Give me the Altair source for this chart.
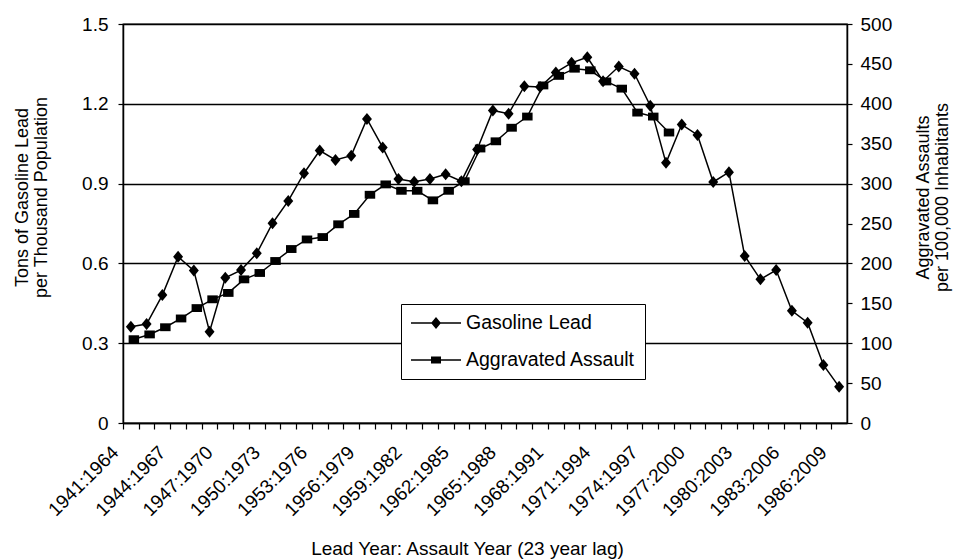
import altair as alt
import pandas as pd

categories = [
    "1941:1964", "1942:1965", "1943:1966", "1944:1967", "1945:1968", "1946:1969",
    "1947:1970", "1948:1971", "1949:1972", "1950:1973", "1951:1974", "1952:1975",
    "1953:1976", "1954:1977", "1955:1978", "1956:1979", "1957:1980", "1958:1981",
    "1959:1982", "1960:1983", "1961:1984", "1962:1985", "1963:1986", "1964:1987",
    "1965:1988", "1966:1989", "1967:1990", "1968:1991", "1969:1992", "1970:1993",
    "1971:1994", "1972:1995", "1973:1996", "1974:1997", "1975:1998", "1976:1999",
    "1977:2000", "1978:2001", "1979:2002", "1980:2003", "1981:2004", "1982:2005",
    "1983:2006", "1984:2007", "1985:2008", "1986:2009",
]

lead = [
    0.362, 0.372, 0.481, 0.625, 0.573, 0.343, 0.546, 0.575, 0.638, 0.751,
    0.835, 0.939, 1.024, 0.989, 1.005, 1.143, 1.036, 0.917, 0.907, 0.917,
    0.935, 0.909, 1.028, 1.175, 1.163, 1.266, 1.263, 1.318, 1.354, 1.375,
    1.285, 1.340, 1.313, 1.193, 0.978, 1.122, 1.083, 0.906, 0.943, 0.628,
    0.540, 0.575, 0.422, 0.377, 0.218, 0.136,
]

assault = [
    105, 111, 120, 131, 144, 155, 163, 180, 188, 203,
    218, 230, 233, 249, 262, 286, 299, 291, 291, 279,
    291, 303, 344, 353, 370, 384, 423, 435, 444, 442,
    428, 419, 389, 384, 364,
]

series = ["Gasoline Lead", "Aggravated Assault"]
lead_ticks = [0, 0.3, 0.6, 0.9, 1.2, 1.5]
assault_ticks = [0, 50, 100, 150, 200, 250, 300, 350, 400, 450, 500]

n = len(categories)
df = pd.DataFrame({
    "period": categories,
    "lead": lead,
    "assault": assault + [None] * (n - len(assault)),
})
legend_df = pd.DataFrame({"series": series})

FONT = "Liberation Sans"
W, H = 724, 399
step = W / n

DIAMOND = "M0,-1L0.83,0L0,1L-0.83,0Z"
SQUARE = "M-1,-0.75L1,-0.75L1,0.75L-1,0.75Z"
# legend symbols: thin filled bar (the line) plus the marker, all filled
LEG_DIAMOND = "M-1,-0.026L1,-0.026L1,0.026L-1,0.026Z M0,-0.24L0.2,0L0,0.24L-0.2,0Z"
LEG_SQUARE = "M-1,-0.026L1,-0.026L1,0.026L-1,0.026Z M-0.2,-0.14L0.2,-0.14L0.2,0.14L-0.2,0.14Z"

x_enc = alt.X(
    "period:N",
    sort=categories,
    scale=alt.Scale(type="point", domain=categories, padding=0.5),
    axis=alt.Axis(
        title="Lead Year: Assault Year (23 year lag)",
        titleFontSize=19,
        titleX=344,
        titleY=131,
        titleBaseline="alphabetic",
        labelAngle=-45,
        labelAlign="right",
        labelBaseline="middle",
        labelOverlap=False,
        labelExpr="(toNumber(slice(datum.value, 0, 4)) - 1941) % 3 == 0 ? datum.value : ''",
        tickOffset=-step / 2,
        labelOffset=step / 2 - 16,
        tickSize=6,
        labelPadding=20,
    ),
)

y_lead = alt.Y(
    "lead:Q",
    scale=alt.Scale(domain=[0, 1.5], nice=False),
    axis=alt.Axis(
        values=lead_ticks,
        labelExpr="datum.value == 0 ? '0' : format(datum.value, '.1f')",
        grid=True,
        gridColor="black",
        gridWidth=1.3,
        tickSize=5,
        labelPadding=10,
        title=["Tons of Gasoline Lead", "per Thousand Population"],
        titleAngle=270,
        titleX=-101,
        titleY=173,
        titleBaseline="middle",
    ),
)

y_asl = alt.Y(
    "assault:Q",
    scale=alt.Scale(domain=[0, 500], nice=False),
    axis=alt.Axis(
        orient="right",
        values=assault_ticks,
        grid=False,
        tickSize=5,
        labelPadding=8,
        title=["Aggravated Assaults", "per 100,000 Inhabitants"],
        titleAngle=270,
        titleX=76,
        titleY=173,
        titleBaseline="middle",
    ),
)

lead_line = alt.Chart(df).mark_line(color="black", strokeWidth=1.5).encode(x=x_enc, y=y_lead)
lead_pts = alt.Chart(df).mark_point(
    shape=DIAMOND, filled=True, color="black", size=144, opacity=1
).encode(x=x_enc, y=y_lead)

asl_line = alt.Chart(df).mark_line(color="black", strokeWidth=1.5, xOffset=3).encode(x=x_enc, y=y_asl)
asl_pts = alt.Chart(df).mark_point(
    shape=SQUARE, filled=True, color="black", size=110, opacity=1, xOffset=3
).encode(x=x_enc, y=y_asl)

legend_layer = alt.Chart(legend_df).mark_point(filled=True, color="black", opacity=0).encode(
    shape=alt.Shape(
        "series:N",
        scale=alt.Scale(domain=series, range=[LEG_DIAMOND, LEG_SQUARE]),
        legend=alt.Legend(
            title=None,
            orient="none",
            legendX=278,
            legendY=280,
            padding=9,
            strokeColor="black",
            fillColor="white",
            symbolSize=2500,
            symbolOpacity=1,
            symbolFillColor="black",
            clipHeight=20,
            rowPadding=17,
            labelOffset=4,
            labelLimit=0,
            labelFont=FONT,
            labelFontSize=19.5,
            labelColor="black",
        ),
    )
)

chart = (
    alt.layer(alt.layer(lead_line, lead_pts), alt.layer(asl_line, asl_pts), legend_layer)
    .resolve_scale(y="independent")
    .properties(
        width=W,
        height=H,
        autosize=alt.AutoSizeParams(type="none"),
        padding={"left": 115, "top": 16, "right": 108, "bottom": 137},
        background="white",
    )
    .configure_view(stroke="black", strokeWidth=1.3)
    .configure_axis(
        domainColor="black",
        domainWidth=1.5,
        tickColor="black",
        tickWidth=1.2,
        labelColor="black",
        labelFont=FONT,
        labelFontSize=19,
        titleColor="black",
        titleFont=FONT,
        titleFontSize=18,
        titleFontWeight="normal",
        titleLineHeight=19,
    )
)

chart.save("out.html", embed_options={"renderer": "svg", "actions": False})
